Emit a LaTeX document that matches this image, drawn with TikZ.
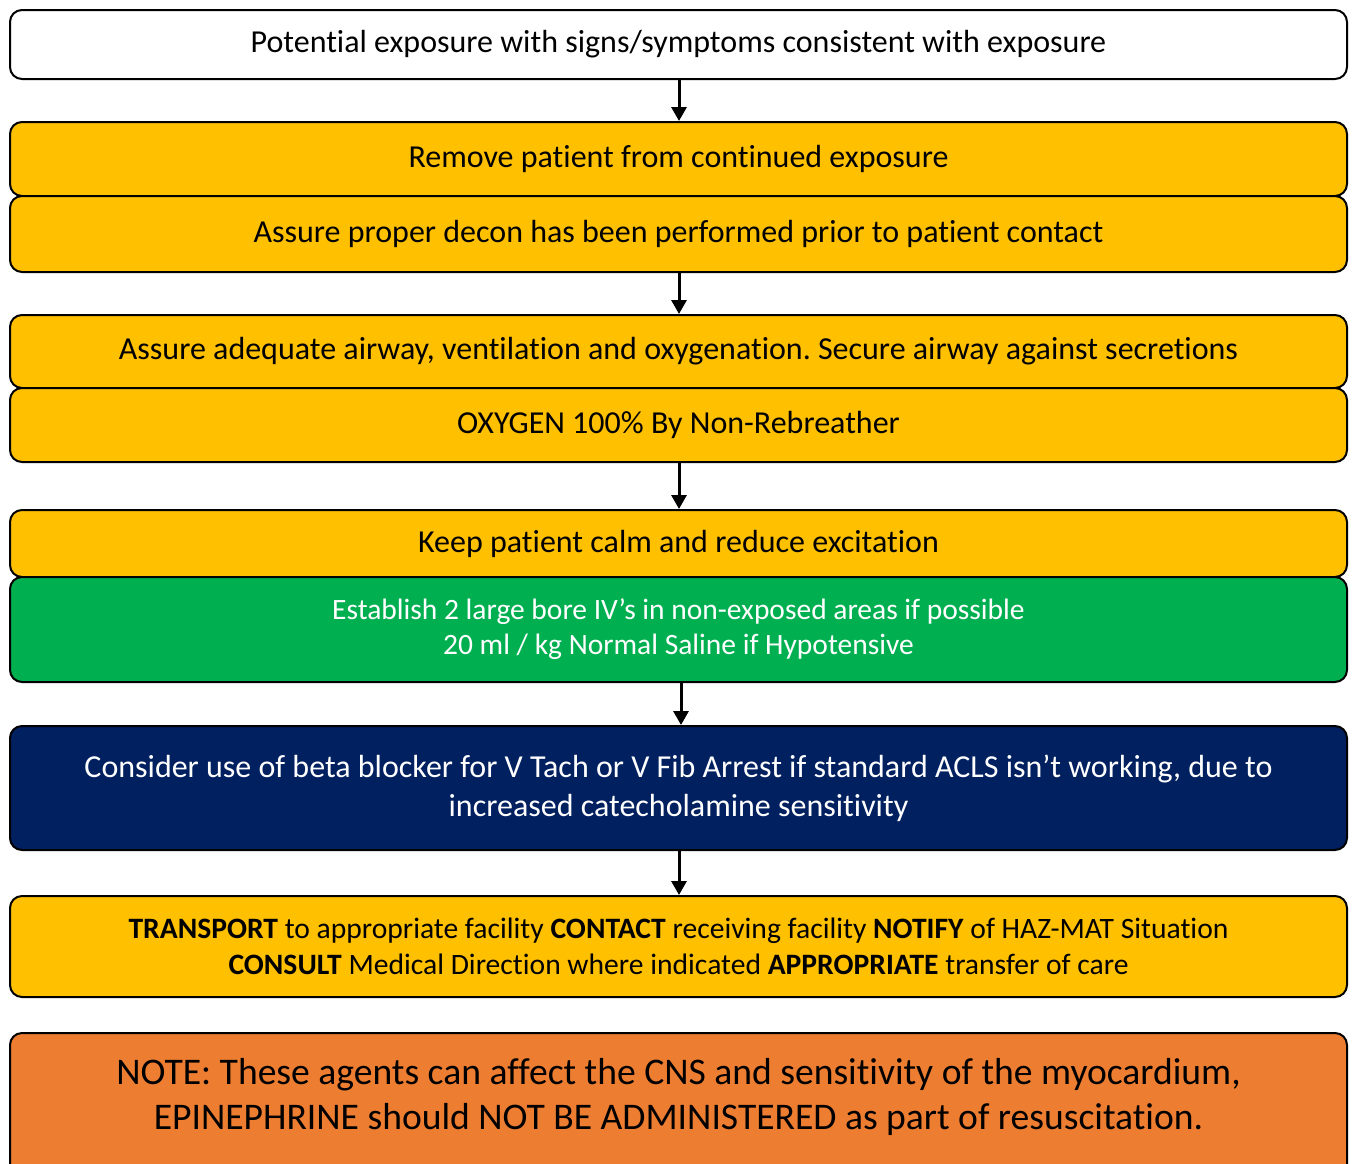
\documentclass[tikz,border=0pt]{standalone}
\usepackage{fontspec}
\setmainfont{Carlito}[Ligatures=NoCommon]
\usetikzlibrary{arrows.meta}
\definecolor{cyellow}{HTML}{FFC000}
\definecolor{cgreen}{HTML}{00B050}
\definecolor{cnavy}{HTML}{002060}
\definecolor{corange}{HTML}{ED7D31}
\frenchspacing
\tikzset{
  box/.style={draw=black, line width=2pt, rounded corners=12pt, minimum width=1337pt, align=center, inner sep=0pt, font=\fontsize{32}{38}\selectfont\frenchspacing},
  flow/.style={line width=3pt, -{Triangle[width=15pt,length=14pt]}}
}
\begin{document}
\begin{tikzpicture}[x=1pt,y=-1pt]
\useasboundingbox (0,0) rectangle (1352,1163);
\begin{scope}
\clip (0,0) rectangle (1352,1163);
\node[box, fill=white, minimum height=69pt] (n1) at (678.5,44.5) {Potential exposure with signs/symptoms consistent with exposure};
\node[box, fill=cyellow, minimum height=74pt] (n2) at (678.5,159) {Remove patient from continued exposure};
\node[box, fill=cyellow, minimum height=76pt] (n3) at (678.5,234) {Assure proper decon has been performed prior to patient contact};
\node[box, fill=cyellow, minimum height=73pt] (n4) at (678.5,351.5) {Assure adequate airway, ventilation and oxygenation. Secure airway against secretions};
\node[box, fill=cyellow, minimum height=74pt] (n5) at (678.5,425) {OXYGEN 100\% By Non-Rebreather};
\node[box, fill=cyellow, minimum height=67pt] (n6) at (678.5,543.5) {Keep patient calm and reduce excitation};
\node[box, fill=cgreen, text=white, minimum height=105pt, font=\fontsize{29.5}{35}\selectfont] (n7) at (678.5,629.5) {Establish 2 large bore IV’s in non-exposed areas if possible\\20 ml / kg Normal Saline if Hypotensive};
\node[box, fill=cnavy, text=white, minimum height=124pt, font=\fontsize{32}{39}\selectfont] (n8) at (678.5,788) {Consider use of beta blocker for V Tach or V Fib Arrest if standard ACLS isn’t working, due to\\increased catecholamine sensitivity};
\node[box, fill=cyellow, minimum height=101pt, font=\fontsize{29.6}{36}\selectfont] (n9) at (678.5,946.5) {\textbf{TRANSPORT} to appropriate facility \textbf{CONTACT} receiving facility \textbf{NOTIFY} of HAZ-MAT Situation\\\textbf{CONSULT} Medical Direction where indicated \textbf{APPROPRIATE} transfer of care};
\node[box, fill=corange, minimum height=150pt, anchor=north] (n10) at (678.5,1032) {};
\node[align=center, font=\fontsize{37.6}{45}\selectfont, inner sep=0pt] (t10) at (678.5,1097) {NOTE: These agents can affect the CNS and sensitivity of the myocardium,\\EPINEPHRINE should NOT BE ADMINISTERED as part of resuscitation.};
\end{scope}
\draw[flow] (n1.south -| 679,0) -- (n2.north -| 679,0);
\draw[flow] (n3.south -| 679,0) -- (n4.north -| 679,0);
\draw[flow] (n5.south -| 679,0) -- (n6.north -| 679,0);
\draw[flow] (n7.south -| 681,0) -- (n8.north -| 681,0);
\draw[flow] (n8.south -| 679,0) -- (n9.north -| 679,0);
\end{tikzpicture}
\end{document}
